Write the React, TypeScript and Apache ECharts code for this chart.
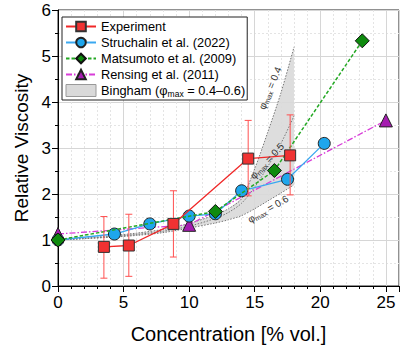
import React, { useEffect, useRef } from 'react';
import * as echarts from 'echarts';

// Experiment
const expX = [3.5, 5.4, 8.8, 14.5, 17.7];
const expY = [0.85, 0.88, 1.35, 2.77, 2.84];
const expLow = [0.17, 0.21, 0.63, 1.96, 1.98];
const expHigh = [1.51, 1.56, 2.07, 3.6, 3.72];

// Struchalin et al. (2022)
const strX = [0, 4.3, 7.0, 10.0, 12.0, 14.0, 17.5, 20.3];
const strY = [1.0, 1.13, 1.35, 1.52, 1.57, 2.07, 2.32, 3.1];

// Matsumoto et al. (2009)
const matX = [0, 12, 16.5, 23.2];
const matY = [1.0, 1.62, 2.51, 5.33];

// Rensing et al. (2011)
const renX = [0, 10, 25];
const renY = [1.13, 1.33, 3.6];

// Bingham model band
const binX = [0, 2, 4, 6, 8, 10, 12, 13, 14, 15, 16, 17, 18];
const bin04 = [1, 1.04, 1.09, 1.15, 1.23, 1.36, 1.55, 1.68, 1.9, 2.55, 3.35, 4.2, 5.2];
const bin05 = [1, 1.03, 1.07, 1.12, 1.19, 1.3, 1.47, 1.6, 1.8, 2.15, 2.6, 3.1, 3.7];
const bin06 = [1, 1.03, 1.06, 1.1, 1.16, 1.26, 1.37, 1.44, 1.53, 1.68, 1.85, 2.02, 2.2];

const xTicks = [0, 5, 10, 15, 20, 25];
const yTicks = [0, 1, 2, 3, 4, 5, 6];

const FONT = '"Liberation Sans", Arial, Helvetica, sans-serif';

const pairs = (xs: number[], ys: number[]) => xs.map((x, i) => [x, ys[i]]);

export default function App() {
  const ref = useRef<HTMLDivElement>(null);
  useEffect(() => {
    document.body.style.margin = '0';
    const chart = echarts.init(ref.current!, null, { renderer: 'svg' });
    const labelRich = {
      a: { fontSize: 10, fontFamily: FONT, fill: '#333', color: '#333' },
      s: { fontSize: 7, fontFamily: FONT, fill: '#333', color: '#333', padding: [5, 0, 0, 0] },
    };
    const mkLabel = (x: number, y: number, rot: number, val: string) => ({
      type: 'text',
      x,
      y,
      rotation: rot,
      z: 100,
      style: {
        text: `{a|φ}{s|max}{a| = ${val}}`,
        rich: labelRich,
        align: 'center',
        verticalAlign: 'middle',
        fill: '#333',
      },
    });
    const option: any = {
      animation: false,
      textStyle: { fontFamily: FONT },
      grid: {
        left: 58,
        right: 1,
        top: 10,
        bottom: 67,
        show: true,
        borderColor: '#222',
        borderWidth: 1,
        backgroundColor: 'transparent',
      },
      xAxis: {
        type: 'value',
        min: 0,
        max: 26,
        interval: 5,
        name: 'Concentration [% vol.]',
        nameLocation: 'middle',
        nameGap: 38,
        nameTextStyle: { fontSize: 20, color: '#000', fontFamily: FONT },
        axisLine: { show: true, lineStyle: { color: '#000', width: 1 } },
        axisTick: { show: true, length: 6, lineStyle: { color: '#000' } },
        minorTick: { show: true, splitNumber: 5, length: 3, lineStyle: { color: '#000' } },
        axisLabel: {
          fontSize: 17,
          color: '#000',
          margin: 8,
          showMaxLabel: false,
          formatter: (v: number) => (xTicks.includes(v) ? String(v) : ''),
        },
        splitLine: { show: true, lineStyle: { color: '#d6d6d6', width: 1 } },
        minorSplitLine: { show: true, lineStyle: { color: '#e4e4e4', type: [2, 2], width: 1 } },
      },
      yAxis: {
        type: 'value',
        min: 0,
        max: 6,
        interval: 1,
        name: 'Relative Viscosity',
        nameLocation: 'middle',
        nameGap: 26,
        nameTextStyle: { fontSize: 19, color: '#000', fontFamily: FONT },
        axisLine: { show: true, lineStyle: { color: '#000', width: 1 } },
        axisTick: { show: true, length: 6, lineStyle: { color: '#000' } },
        minorTick: { show: true, splitNumber: 2, length: 3, lineStyle: { color: '#000' } },
        axisLabel: {
          fontSize: 17,
          color: '#000',
          margin: 7,
          formatter: (v: number) => (yTicks.includes(v) ? String(v) : ''),
        },
        splitLine: { show: true, lineStyle: { color: '#d6d6d6', width: 1 } },
        minorSplitLine: { show: true, lineStyle: { color: '#e4e4e4', type: [2, 2], width: 1 } },
      },
      legend: {
        orient: 'vertical',
        left: 62,
        top: 17,
        padding: [3, 2, 2, 3],
        itemGap: 3,
        itemWidth: 30,
        itemHeight: 12,
        borderColor: '#222',
        borderWidth: 1,
        backgroundColor: '#fff',
        textStyle: {
          fontSize: 12.8,
          color: '#000',
          fontFamily: FONT,
          rich: {
            n: { fontSize: 12.8, color: '#000', fontFamily: FONT },
            s: { fontSize: 8.5, color: '#000', fontFamily: FONT, padding: [6, 0, 0, 0] },
          },
        },
        formatter: (name: string) =>
          name === 'Bingham' ? '{n|Bingham (φ}{s|max}{n| = 0.4–0.6)}' : '{n|' + name + '}',
        data: [
          { name: 'Experiment' },
          { name: 'Struchalin et al. (2022)' },
          { name: 'Matsumoto et al. (2009)' },
          { name: 'Rensing et al. (2011)' },
          {
            name: 'Bingham',
            icon: 'rect',
            itemStyle: { color: '#d9d9d9', borderColor: '#999', borderWidth: 1 },
          },
        ],
      },
      graphic: [
        mkLabel(270, 88, 1.18, '0.4'),
        mkLabel(267, 161, 0.82, '0.5'),
        mkLabel(268, 209, 0.52, '0.6'),
      ],
      series: [
        {
          name: 'Bingham',
          type: 'custom',
          z: 1,
          silent: true,
          itemStyle: { color: '#d9d9d9', borderColor: '#999', borderWidth: 1 },
          data: binX.map((x, i) => [x, bin06[i], bin04[i]]),
          encode: { x: 0, y: [1, 2] },
          renderItem: (params: any, api: any) => {
            if (params.dataIndex !== 0) return null;
            const upper = binX.map((x, i) => api.coord([x, bin04[i]]));
            const lower = binX.map((x, i) => api.coord([x, bin06[i]])).reverse();
            return {
              type: 'polygon',
              shape: { points: upper.concat(lower) },
              style: { fill: '#d9d9d9', opacity: 0.9 },
            };
          },
        },
        ...[bin04, bin05, bin06].map((arr, k) => ({
          name: 'b' + k,
          type: 'line',
          z: 2,
          silent: true,
          symbol: 'none',
          smooth: 0.3,
          data: pairs(binX, arr),
          lineStyle: { color: '#777', width: 1, type: [1.5, 1.5] },
        })),
        {
          name: 'Rensing et al. (2011)',
          type: 'line',
          z: 3,
          data: pairs(renX, renY),
          symbol: 'triangle',
          symbolSize: 13,
          lineStyle: { color: '#d83cd8', width: 1.3, type: [6, 2, 1.5, 2] },
          itemStyle: { color: '#a51cb0', borderColor: '#222', borderWidth: 1 },
        },
        {
          name: 'Struchalin et al. (2022)',
          type: 'line',
          z: 4,
          data: pairs(strX, strY),
          symbol: 'circle',
          symbolSize: 12,
          lineStyle: { color: '#3aa8f0', width: 1.3 },
          itemStyle: { color: '#1ea6ec', borderColor: '#222', borderWidth: 1 },
        },
        {
          name: 'Matsumoto et al. (2009)',
          type: 'line',
          z: 5,
          data: pairs(matX, matY),
          symbol: 'diamond',
          symbolSize: 14,
          lineStyle: { color: '#23a823', width: 1.5, type: [3.5, 2] },
          itemStyle: { color: '#0e8a0e', borderColor: '#111', borderWidth: 1 },
        },
        {
          name: 'errbar',
          type: 'custom',
          z: 6,
          silent: true,
          data: expX.map((x, i) => [x, expLow[i], expHigh[i]]),
          encode: { x: 0, y: [1, 2] },
          renderItem: (params: any, api: any) => {
            const x = api.value(0);
            const lo = api.coord([x, api.value(1)]);
            const hi = api.coord([x, api.value(2)]);
            const w = 3.5;
            const st = { stroke: '#ff5050', lineWidth: 1 };
            return {
              type: 'group',
              children: [
                { type: 'line', shape: { x1: lo[0], y1: lo[1], x2: hi[0], y2: hi[1] }, style: st },
                { type: 'line', shape: { x1: lo[0] - w, y1: lo[1], x2: lo[0] + w, y2: lo[1] }, style: st },
                { type: 'line', shape: { x1: hi[0] - w, y1: hi[1], x2: hi[0] + w, y2: hi[1] }, style: st },
              ],
            };
          },
        },
        {
          name: 'Experiment',
          type: 'line',
          z: 7,
          data: pairs(expX, expY),
          symbol: 'rect',
          symbolSize: 11,
          lineStyle: { color: '#f02828', width: 1.3 },
          itemStyle: { color: '#f03232', borderColor: '#333', borderWidth: 1 },
        },
      ],
    };
    chart.setOption(option);
    return () => chart.dispose();
  }, []);
  return (
    <div
      ref={ref}
      style={{ width: 400, height: 353, position: 'absolute', left: 0, top: 0, background: '#fff' }}
    />
  );
}
